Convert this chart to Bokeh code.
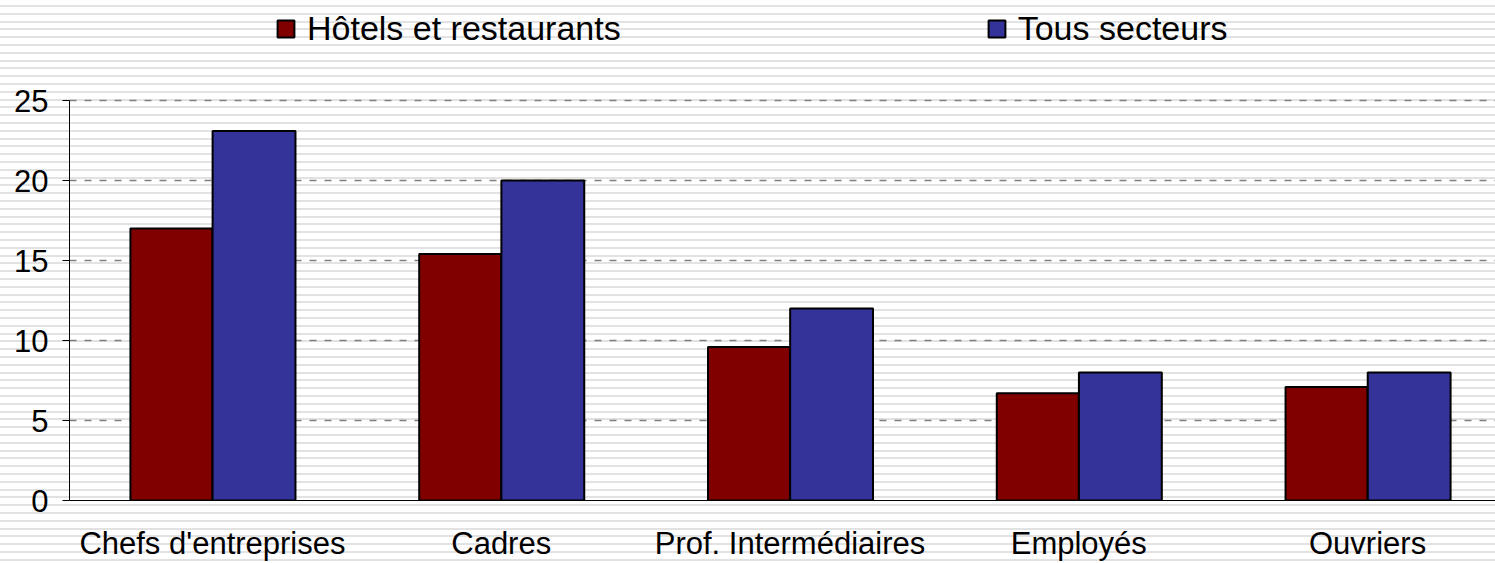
from bokeh.plotting import figure
from bokeh.models import ColumnDataSource, Range1d, FixedTicker, Legend, LegendItem
from bokeh.transform import dodge
from bokeh.embed import file_html
from bokeh.resources import INLINE

categories = ["Chefs d'entreprises", "Cadres", "Prof. Intermédiaires", "Employés", "Ouvriers"]
hotels = [17.0, 15.4, 9.6, 6.7, 7.1]
tous = [23.1, 20.0, 12.0, 8.0, 8.0]
series_names = ["Hôtels et restaurants", "Tous secteurs"]
y_ticks = [0, 5, 10, 15, 20, 25]

xs = list(range(len(categories)))
src = ColumnDataSource(dict(x=xs, hotels=hotels, tous=tous))

p = figure(width=1495, height=563, output_backend="svg", toolbar_location=None,
           x_range=Range1d(-0.495, 4.443), y_range=Range1d(0, 31.25),
           min_border_left=69, min_border_right=0, min_border_top=0, min_border_bottom=63)

p.background_fill_color = None
p.border_fill_color = None
p.outline_line_color = None
p.styles = {"background-image": "repeating-linear-gradient(to bottom, #ffffff 0px, #ffffff 5px, #e2e2e2 5px, #e2e2e2 7px, #ffffff 7px, #ffffff 7.8px)"}

r1 = p.vbar(x=dodge("x", -0.142, range=p.x_range), top="hotels", width=0.284, source=src,
            fill_color="#800000", line_color="black", line_width=2)
r2 = p.vbar(x=dodge("x", 0.144, range=p.x_range), top="tous", width=0.287, source=src,
            fill_color="#333399", line_color="black", line_width=2)

# grid
p.xgrid.visible = False
p.ygrid.ticker = FixedTicker(ticks=y_ticks[1:])
p.ygrid.grid_line_color = "#7f7f7f"
p.ygrid.grid_line_dash = "7 8"
p.ygrid.grid_line_width = 1.5

# y axis
p.yaxis.ticker = FixedTicker(ticks=y_ticks)
p.yaxis.bounds = (0, 25)
p.yaxis.axis_line_color = "black"
p.yaxis.major_tick_line_color = "black"
p.yaxis.major_tick_out = 7
p.yaxis.major_tick_in = 0
p.yaxis.minor_tick_line_color = None
p.yaxis.major_label_text_font = "Liberation Sans"
p.yaxis.major_label_text_font_size = "31px"
p.yaxis.major_label_text_color = "black"
p.yaxis.major_label_standoff = 14

# x axis
p.xaxis.ticker = FixedTicker(ticks=xs)
p.xaxis.major_label_overrides = {i: c for i, c in enumerate(categories)}
p.xaxis.axis_line_color = "black"
p.xaxis.major_tick_line_color = None
p.xaxis.minor_tick_line_color = None
p.xaxis.major_label_text_font = "Liberation Sans"
p.xaxis.major_label_text_font_size = "31px"
p.xaxis.major_label_text_color = "black"
p.xaxis.major_label_standoff = 19

legend = Legend(items=[LegendItem(label=series_names[0], renderers=[r1]),
                       LegendItem(label=series_names[1], renderers=[r2])],
                orientation="horizontal", location=(206, 452))
legend.glyph_width = 21
legend.glyph_height = 21
legend.label_standoff = 11
legend.spacing = 365
legend.padding = 0
legend.margin = 0
legend.border_line_color = None
legend.background_fill_alpha = 0
legend.label_text_font = "Liberation Sans"
legend.label_text_font_size = "34px"
legend.label_text_color = "black"
p.add_layout(legend, "center")

open("out.html", "w").write(file_html(p, INLINE))
